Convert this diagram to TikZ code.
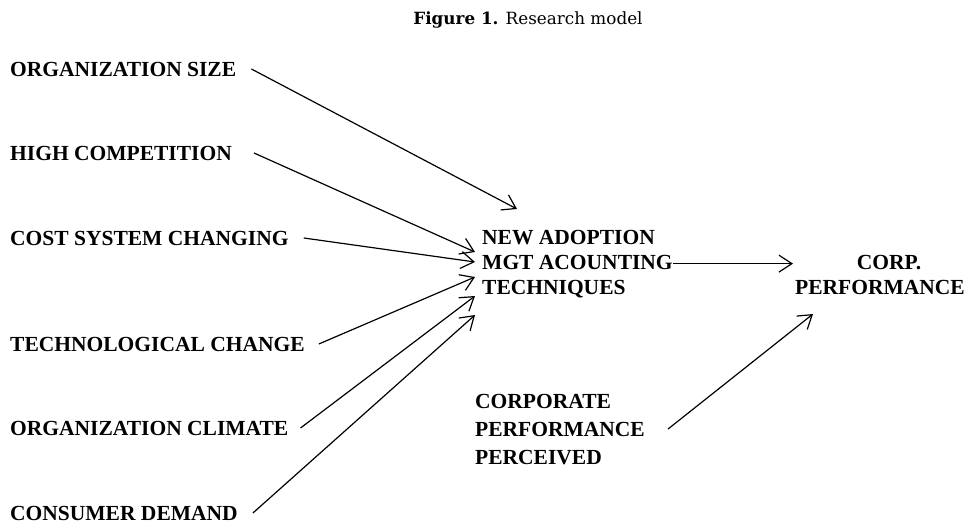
\documentclass[tikz,border=0pt]{standalone}
\usepackage{fontspec}
\setmainfont{Liberation Serif}
\newfontfamily\titlefont{DejaVu Serif}
\usetikzlibrary{arrows.meta}
\begin{document}
\begin{tikzpicture}[x=1pt,y=-1pt,
  lbl/.style={inner sep=0pt,font=\fontsize{21.5}{25}\selectfont\bfseries,align=left},
  arr/.style={draw=black,line width=1.2pt,-{Straight Barb[length=13pt,width=17pt,line width=1.2pt]}}]
\useasboundingbox (0,0) rectangle (967,523);
% title
\node[inner sep=0pt,anchor=base,font=\titlefont\fontsize{16.8}{19}\selectfont] (title) at (528,24) {\textbf{Figure 1.} Research model};
% left factors
\node[lbl,anchor=base west] (os) at (10,76) {ORGANIZATION SIZE};
\node[lbl,anchor=base west] (hc) at (10,160) {HIGH COMPETITION};
\node[lbl,anchor=base west] (cs) at (10,245) {COST SYSTEM CHANGING};
\node[lbl,anchor=base west] (tc) at (10,351) {TECHNOLOGICAL CHANGE};
\node[lbl,anchor=base west] (oc) at (10,435) {ORGANIZATION CLIMATE};
\node[lbl,anchor=base west] (cd) at (10,520) {CONSUMER DEMAND};
% central node (base anchor = last line)
\node[lbl,anchor=base west] (adopt) at (482,294) {NEW ADOPTION\\MGT ACOUNTING\\TECHNIQUES};
% outcome
\node[lbl,align=center,anchor=base west] (corp) at (795,294) {\hspace*{18pt}CORP.\\PERFORMANCE};
% moderator
\node[lbl,font=\fontsize{21.5}{28}\selectfont\bfseries,anchor=base west] (cpp) at (475,464) {CORPORATE\\PERFORMANCE\\PERCEIVED};
% arrow tips
\coordinate (t1) at (517,209);
\coordinate (t2) at (475,252);
\coordinate (t3) at (475,262);
\coordinate (t4) at (475,277);
\coordinate (t5) at (475,296);
\coordinate (t6) at (475,315);
\coordinate (t7) at (813,314);
% connectors
\draw[arr] ([xshift=15pt]os.east) -- (t1);
\draw[arr] ([xshift=22pt]hc.east) -- (t2);
\draw[arr] ([xshift=15pt]cs.east) -- (t3);
\draw[arr] ([xshift=14pt]tc.east) -- (t4);
\draw[arr] ([xshift=12pt]oc.east) -- (t5);
\draw[arr] ([xshift=15pt]cd.east) -- (t6);
\draw[arr,shorten >=2pt] (adopt.east) -- (adopt.east -| corp.west);
\draw[arr] ([xshift=23pt]cpp.east) -- (t7);
\end{tikzpicture}
\end{document}
